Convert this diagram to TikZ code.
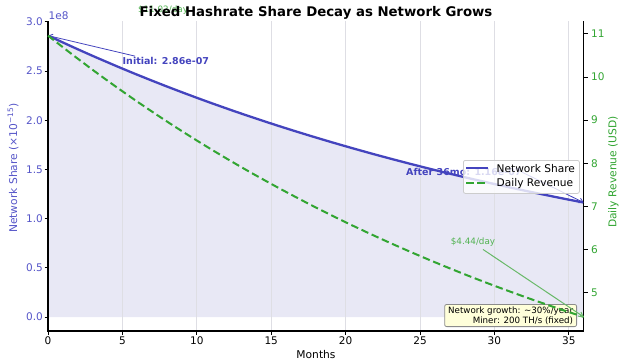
\documentclass[tikz,border=0pt]{standalone}
\usepackage{fontspec}
\setmainfont{DejaVu Sans}
\usetikzlibrary{arrows.meta}
\definecolor{shareblue}{RGB}{68,68,190}
\definecolor{sharetick}{RGB}{85,85,200}
\definecolor{sharefill}{RGB}{232,232,245}
\definecolor{revgreen}{RGB}{50,165,50}
\definecolor{revlight}{RGB}{105,185,105}
\definecolor{gridgray}{RGB}{222,222,228}
\definecolor{notefill}{RGB}{255,255,218}
\definecolor{noteedge}{RGB}{140,140,140}
\definecolor{legedge}{RGB}{204,204,204}
\begin{document}
\begin{tikzpicture}[x=1pt,y=-1pt,
  base/.style={inner sep=0pt},
  ticktext/.style={base, font=\fontsize{10.5}{12.6}\selectfont},
  axlabel/.style={base, font=\fontsize{10.7}{12.8}\selectfont},
  spine/.style={black, line width=1.1pt},
  tickmark/.style={black, line width=0.8pt},
  gridline/.style={gridgray, line width=0.8pt},
  shareline/.style={shareblue, line width=2.3pt, line join=round},
  revline/.style={revgreen, line width=2pt, dash pattern=on 7.5pt off 3.7pt},
  boldnote/.style={base, font=\bfseries\fontsize{9.5}{11.4}\selectfont, text=shareblue},
  greennote/.style={base, font=\fontsize{8.8}{10.5}\selectfont, text=revgreen!85!white},
  sharearrow/.style={shareblue, line width=0.8pt, -{Straight Barb[length=4pt,width=5pt]}},
  revarrow/.style={revlight, line width=1pt, -{Straight Barb[length=4pt,width=5pt]}},
  legendbox/.style={draw=legedge, fill=white, fill opacity=0.8, rounded corners=2pt, line width=0.8pt},
  legendtext/.style={base, anchor=west, font=\fontsize{10.6}{12.7}\selectfont},
  notebox/.style={draw=noteedge, fill=notefill, rounded corners=2pt, line width=0.8pt,
    inner xsep=3.5pt, inner ysep=2.2pt, align=right, font=\fontsize{8.7}{10}\selectfont}]
\useasboundingbox (0,0) rectangle (620,361);

% ---- network share area (left axis) ----
\fill[sharefill] (48,317) -- plot[domain=0:36, samples=80]
  ({48+14.88*\x},{317-281.42*exp(-0.025*\x)}) -- (583.7,317) -- cycle;

% vertical grid
\foreach \t in {5,10,...,35}
  \draw[gridline] ({48+14.88*\t},21.5) -- ({48+14.88*\t},331);

% share curve
\draw[shareline] plot[domain=0:36, samples=80]
  ({48+14.88*\x},{317-281.42*exp(-0.025*\x)});

% spines
\draw[spine] (48,21.5) -- (48,331) -- (583.7,331) -- (583.7,21.5);

% bottom ticks
\foreach \t in {0,5,...,35} {
  \draw[tickmark] ({48+14.88*\t},331) -- ({48+14.88*\t},335);
  \node[ticktext, anchor=north] (xt\t) at ({48+14.88*\t},336.5) {\t};
}
% left ticks
\foreach \v/\s in {0/0.0,0.5/0.5,1/1.0,1.5/1.5,2/2.0,2.5/2.5,3/3.0} {
  \draw[tickmark] (44.5,{317-98.4*\v}) -- (48,{317-98.4*\v});
  \node[ticktext, anchor=east, text=sharetick] (yl\s) at (43,{317-98.4*\v}) {\s};
}
\node[ticktext, anchor=west, text=sharetick] (offset) at (48.5,15.5) {1e8};
% right ticks
\foreach \v in {5,...,11} {
  \draw[tickmark] (583.7,{331-43.15*(\v-4.114)}) -- (587.5,{331-43.15*(\v-4.114)});
  \node[ticktext, anchor=west, text=revgreen] (yr\v) at (591,{331-43.15*(\v-4.114)}) {\v};
}

% axis labels
\node[axlabel] (xlab) at (316,355) {Months};
\node[axlabel, rotate=90, text=sharetick] (ylab) at (13,168)
  {Network Share (×10\textsuperscript{−15})};
\node[axlabel, rotate=90, text=revgreen] (yrlab) at (613.5,172) {Daily Revenue (USD)};

% share annotations
\coordinate (sharestart) at (48,35.6);
\coordinate (shareend) at (583.7,202.6);
\node[boldnote, anchor=west] (initlbl) at (122.5,61) {Initial: 2.86e-07};
\draw[sharearrow] ([xshift=12.5pt,yshift=1pt]initlbl.north west) -- (sharestart);
\node[boldnote, anchor=west] (endlbl) at (406,172) {After 36mo: 1.16e-07};
\draw[sharearrow] (endlbl.east) -- (shareend);

% legend
\node[legendbox, anchor=north west, minimum width=116pt, minimum height=33pt] (legend) at (463,160) {};
\draw[shareline] (466,168.3) -- (488,168.3);
\node[legendtext] (legshare) at (496.5,168.3) {Network Share};
\draw[revline] (466,183.3) -- (488,183.3);
\node[legendtext] (legrev) at (496.5,183.3) {Daily Revenue};

% note box
\node[notebox, anchor=south east] (note) at (577,327)
  {Network growth: \textasciitilde30\%/year\\Miner: 200 TH/s (fixed)};

% ---- daily revenue (right axis) ----
\draw[revline] plot[domain=0:36, samples=80]
  ({48+14.88*\x},{331-43.15*(10.96*exp(-0.0251*\x)-4.114)});
\coordinate (revend) at (583.7,316.9);
\node[greennote] (revstartlbl) at (163,10.5) {\$11.02/day};
\node[greennote] (revendlbl) at (473,242.5) {\$4.44/day};
\draw[revarrow] ([xshift=10pt,yshift=-2.5pt]revendlbl.south) -- (revend);

% title
\node[base, font=\bfseries\fontsize{13.3}{16}\selectfont] (title) at (316,12.5)
  {Fixed Hashrate Share Decay as Network Grows};
\end{tikzpicture}
\end{document}
